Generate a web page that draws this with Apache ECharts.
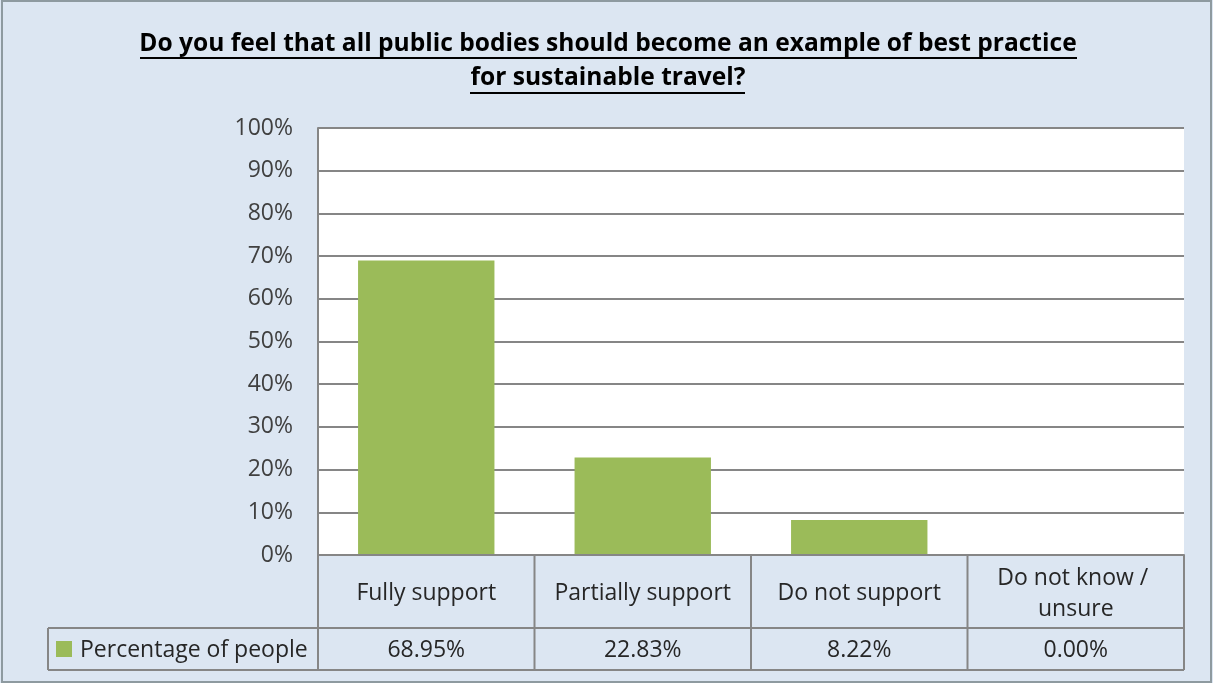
<!DOCTYPE html>
<html><head><meta charset="utf-8">
<script src="https://cdn.jsdelivr.net/npm/echarts@6/dist/echarts.min.js"></script>
<style>html,body{margin:0;padding:0;background:#dce6f2;}#c{width:1213px;height:683px;}</style>
</head><body><div id="c"></div>
<script>
const titleLines = ['Do you feel that all public bodies should become an example of best practice', 'for sustainable travel?'];
const categories = ['Fully support', 'Partially support', 'Do not support', 'Do not know / unsure'];
const seriesName = 'Percentage of people';
const values = [0.6895, 0.2283, 0.0822, 0.0];
const valueLabels = ['68.95%', '22.83%', '8.22%', '0.00%'];
const yTicks = [0, 0.1, 0.2, 0.3, 0.4, 0.5, 0.6, 0.7, 0.8, 0.9, 1.0];

const FONT = '"Open Sans", "Noto Sans", sans-serif';
const TXT = '#262626';
const LINE = '#868686';
const GREEN = '#9bbb59';

const chart = echarts.init(document.getElementById('c'));
const option = {
  backgroundColor: '#dce6f2',
  animation: false,
  grid: { left: 318, right: 29, top: 128, bottom: 128, show: true, backgroundColor: '#ffffff', borderWidth: 0 },
  xAxis: {
    type: 'category', data: categories,
    axisLine: { show: true, lineStyle: { color: LINE, width: 2 } },
    axisTick: { show: false }, axisLabel: { show: false }, splitLine: { show: false }
  },
  yAxis: {
    type: 'value', min: 0, max: 1, interval: 0.1,
    axisLine: { show: true, lineStyle: { color: LINE, width: 2 } },
    axisTick: { show: false },
    splitLine: { show: true, lineStyle: { color: LINE, width: 2 } },
    axisLabel: { fontFamily: FONT, fontSize: 23, color: '#404040', margin: 25,
      formatter: v => Math.round(v * 100) + '%' }
  },
  series: [{
    name: seriesName, type: 'bar', data: values, barWidth: '63%',
    itemStyle: { color: GREEN }
  }]
};
chart.setOption(option);

function build() {
  const y0 = chart.convertToPixel({ yAxisIndex: 0 }, 0);
  const c0 = chart.convertToPixel({ xAxisIndex: 0 }, 0);
  const c1 = chart.convertToPixel({ xAxisIndex: 0 }, 1);
  const bw = c1 - c0;
  const left = c0 - bw / 2;
  const right = left + bw * categories.length;
  const rowSplit = y0 + 73, bottom = y0 + 115, tableLeft = 48;
  const els = [];
  const line = (x1, y1, x2, y2) => els.push({ type: 'line', shape: { x1, y1, x2, y2 }, style: { stroke: LINE, lineWidth: 2 }, z: 10 });
  const TF = 'bold 25px "Open Sans", sans-serif';
  // title
  els.push({ type: 'text', x: 608, y: 44, scaleX: 0.982, originX: 0, style: { text: titleLines[0], font: TF, fill: '#000', align: 'center', verticalAlign: 'middle' } });
  els.push({ type: 'text', x: 608, y: 78, scaleX: 0.982, originX: 0, style: { text: titleLines[1], font: TF, fill: '#000', align: 'center', verticalAlign: 'middle' } });
  els.push({ type: 'line', shape: { x1: 140, y1: 58, x2: 1077, y2: 58 }, style: { stroke: '#000', lineWidth: 2 } });
  els.push({ type: 'line', shape: { x1: 470, y1: 93, x2: 745, y2: 93 }, style: { stroke: '#000', lineWidth: 2 } });
  // table borders
  for (let i = 0; i <= categories.length; i++) line(left + bw * i, y0, left + bw * i, bottom);
  line(left, y0, right, y0);
  line(tableLeft, rowSplit, right, rowSplit);
  line(tableLeft, bottom, right, bottom);
  line(tableLeft, rowSplit, tableLeft, bottom);
  // texts
  categories.forEach((c, i) => {
    els.push({ type: 'text', x: left + bw * (i + 0.5), y: (y0 + rowSplit) / 2 + 2, style: { text: c, font: '23px ' + FONT, fill: TXT, align: 'center', verticalAlign: 'middle', width: bw - 30, overflow: 'break', lineHeight: 31 } });
    els.push({ type: 'text', x: left + bw * (i + 0.5), y: (rowSplit + bottom) / 2 + 1, style: { text: valueLabels[i], font: '23px ' + FONT, fill: TXT, align: 'center', verticalAlign: 'middle' } });
  });
  els.push({ type: 'rect', shape: { x: 56, y: (rowSplit + bottom) / 2 - 8, width: 16, height: 16 }, style: { fill: GREEN } });
  els.push({ type: 'text', x: 80, y: (rowSplit + bottom) / 2 + 1, style: { text: seriesName, font: '23px ' + FONT, fill: TXT, align: 'left', verticalAlign: 'middle' } });
  // outer frame
  els.push({ type: 'rect', shape: { x: 2, y: 1, width: 1209, height: 681 }, style: { fill: 'none', stroke: '#8e9aa0', lineWidth: 2 } });
  chart.setOption({ graphic: els });
}
build();
</script></body></html>
